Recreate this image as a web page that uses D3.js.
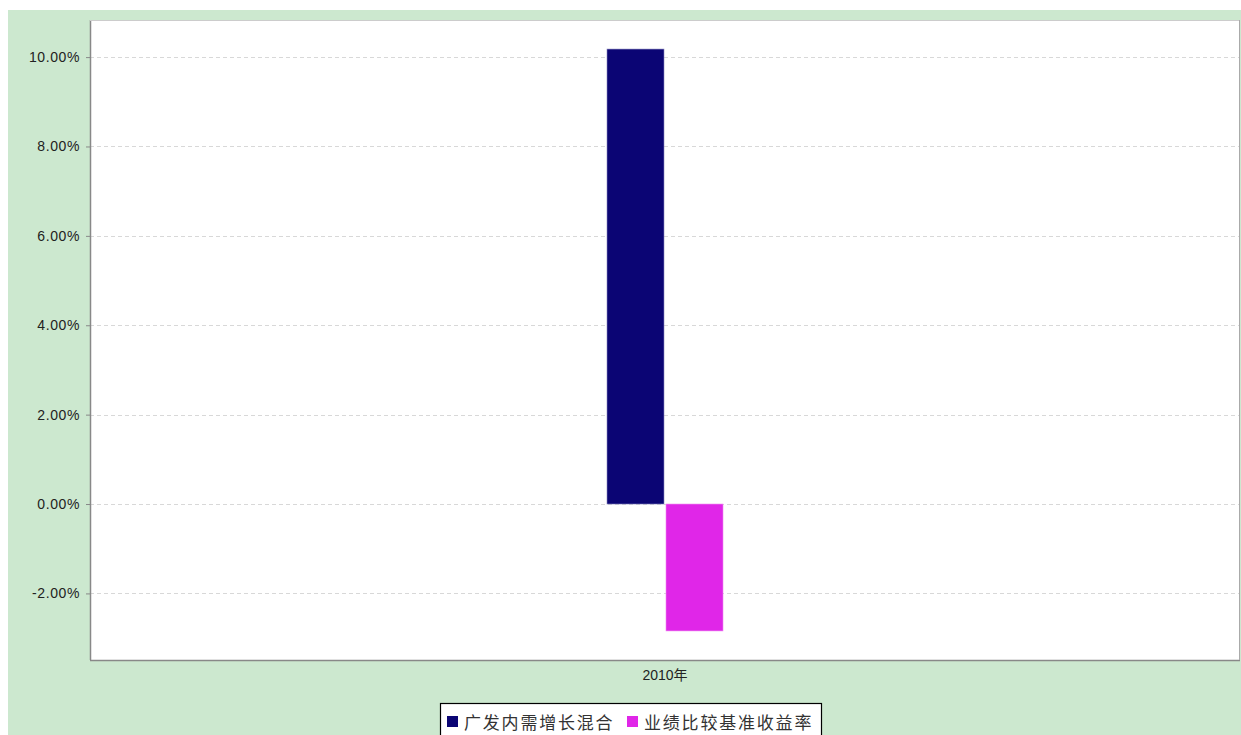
<!DOCTYPE html>
<html>
<head>
<meta charset="utf-8">
<script src="https://cdn.jsdelivr.net/npm/d3@7"></script>
<style>
  body { margin:0; background:#fff; }
  svg { display:block; }
</style>
</head>
<body>
<svg id="chart" width="1241" height="735"></svg>
<script>
// data
var categories = ["2010年"];
var seriesNames = ["广发内需增长混合", "业绩比较基准收益率"];
var seriesColors = ["#0b0574", "#e026e8"];
var fundValues = [10.18];
var benchValues = [-2.84];
var yTicks = [-2, 0, 2, 4, 6, 8, 10];

var svg = d3.select("#chart");
var W = 1241, H = 735;

// green backdrop
svg.append("rect").attr("x", 8).attr("y", 10).attr("width", W - 8).attr("height", H - 10)
    .attr("fill", "#cce8cf");

var margin = {left: 90, top: 20, right: 1, bottom: 75};
var pw = W - margin.left - margin.right, ph = H - margin.top - margin.bottom;

var g = svg.append("g").attr("transform", "translate(" + margin.left + "," + margin.top + ")");

g.append("rect").attr("width", pw).attr("height", ph).attr("fill", "#fff");

var y = d3.scaleLinear().domain([-3.49, 10.83]).range([ph, 0]);
var x0 = d3.scaleBand().domain(categories).range([0, pw]);
var x1 = d3.scaleBand().domain([0, 1]).range([0, 116]);

// grid
g.append("g").selectAll("line").data(yTicks).enter().append("line")
    .attr("x1", 0).attr("x2", pw)
    .attr("y1", function(d) { return Math.round(y(d)) + 0.5; })
    .attr("y2", function(d) { return Math.round(y(d)) + 0.5; })
    .attr("stroke", "#d8d8d8").attr("stroke-dasharray", "4,3");

// bars
var rows = categories.map(function(c, i) { return {cat: c, vals: [fundValues[i], benchValues[i]]}; });
var grp = g.append("g").selectAll("g").data(rows).enter().append("g")
    .attr("transform", function(d) { return "translate(" + (x0(d.cat) + x0.bandwidth() / 2 - 58) + ",0)"; });
grp.selectAll("rect").data(function(d) { return d.vals; }).enter().append("rect")
    .attr("x", function(d, i) { return x1(i) + (i ? 1 : 0); })
    .attr("width", x1.bandwidth() - 1)
    .attr("y", function(d) { return y(Math.max(0, d)); })
    .attr("height", function(d) { return Math.abs(y(d) - y(0)); })
    .attr("fill", function(d, i) { return seriesColors[i]; })
    .attr("stroke", function(d, i) { return i ? "#ee88f0" : "#8a88c0"; })
    .attr("stroke-width", 0.6);

// axes
var yAxis = g.append("g").call(d3.axisLeft(y).tickValues(yTicks).tickSize(4).tickPadding(6)
    .tickFormat(function(d) { return d.toFixed(2) + "%"; }));
yAxis.select(".domain").remove();
yAxis.selectAll("line").attr("stroke", "#888");
yAxis.selectAll("text").attr("font-family", "Liberation Sans, Arial, sans-serif")
    .attr("font-size", 14).attr("letter-spacing", 0.6).attr("fill", "#222");

var xAxis = g.append("g").attr("transform", "translate(0," + ph + ")")
    .call(d3.axisBottom(x0).tickSize(0).tickPadding(10));
xAxis.select(".domain").remove();
xAxis.selectAll("text").attr("font-family", "Liberation Sans, 'Noto Sans CJK SC', sans-serif")
    .attr("font-size", 14).attr("fill", "#222");

// plot frame
g.append("line").attr("x1", 0.5).attr("x2", 0.5).attr("y1", 0).attr("y2", ph).attr("stroke", "#888").attr("stroke-width", 1.5);
g.append("line").attr("x1", 0).attr("x2", pw).attr("y1", ph + 0.5).attr("y2", ph + 0.5).attr("stroke", "#888").attr("stroke-width", 1.5);
g.append("line").attr("x1", 0).attr("x2", pw).attr("y1", 0.5).attr("y2", 0.5).attr("stroke", "#ccc");
g.append("line").attr("x1", pw - 0.5).attr("x2", pw - 0.5).attr("y1", 0).attr("y2", ph).attr("stroke", "#aaa");

// legend
var leg = svg.append("g").attr("transform", "translate(440,703)");
leg.append("rect").attr("x", 0.5).attr("y", 0.5).attr("width", 381).attr("height", 40)
    .attr("fill", "#fff").attr("stroke", "#000").attr("stroke-width", 1.2);
var items = leg.selectAll("g.item").data(seriesNames).enter().append("g").attr("class", "item")
    .attr("transform", function(d, i) { return "translate(" + (i ? 187 : 7) + ",0)"; });
items.append("rect").attr("x", 0).attr("y", 13).attr("width", 11).attr("height", 11)
    .attr("fill", function(d, i) { return seriesColors[i]; });
items.append("text").attr("x", 17).attr("y", 26).text(function(d) { return d; })
    .attr("font-family", "'Noto Sans CJK SC', sans-serif").attr("font-size", 17)
    .attr("letter-spacing", 1.8).attr("fill", "#333");
</script>
</body>
</html>
